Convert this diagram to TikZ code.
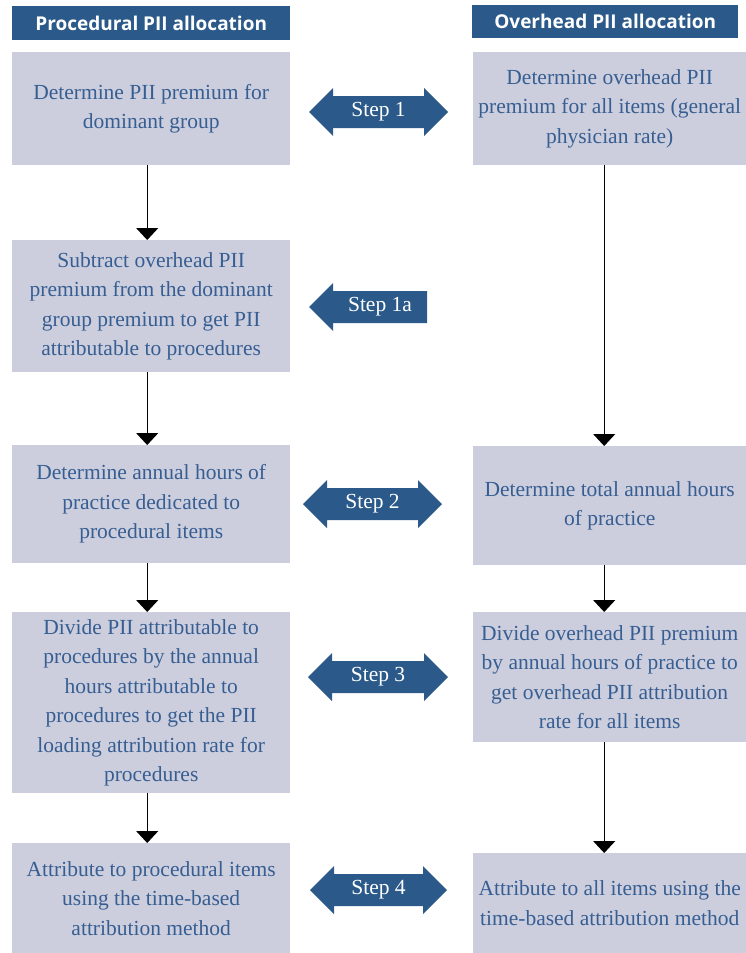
\documentclass[tikz,border=0pt]{standalone}
\usepackage{fontspec}
\setmainfont{Liberation Serif}
\newfontfamily\hdrfont{Open Sans}
\usetikzlibrary{arrows.meta}
\definecolor{hdrblue}{HTML}{2B5A8A}
\definecolor{boxfill}{HTML}{CCCEDD}
\definecolor{txtblue}{HTML}{375E92}
\newcommand{\stepdbl}[5]{%
  \fill[hdrblue] (#1,#3) -- (#1+24,#3-24) -- (#1+24,#3-16) -- (#2-24,#3-16) -- (#2-24,#3-24) -- (#2,#3) -- (#2-24,#3+24) -- (#2-24,#3+16) -- (#1+24,#3+16) -- (#1+24,#3+24) -- cycle;
  \node[steptxt] (#4) at ({(#1+#2)/2},#3) {#5};}
\begin{document}
\begin{tikzpicture}[x=1pt,y=-1pt,
  hdr/.style={fill=hdrblue, text=white, font=\hdrfont\bfseries\fontsize{19}{22}\selectfont, inner sep=0, anchor=north west},
  box/.style={fill=boxfill, text=txtblue, font=\fontsize{21.5}{29.5}\selectfont, align=center, inner sep=0, anchor=north west},
  flow/.style={line width=1.3pt, -{Triangle[width=22pt,length=12pt]}},
  steptxt/.style={text=white, font=\fontsize{21.5}{24}\selectfont, inner sep=0}]
\useasboundingbox (0,0) rectangle (746,953);
% headers
\node[hdr, minimum width=278pt, minimum height=34pt] (h1) at (12,6) {Procedural PII allocation};
\node[hdr, minimum width=266pt, minimum height=33pt] (h2) at (472,5) {Overhead PII allocation};
% left column
\node[box, minimum width=278pt, minimum height=113pt] (b1) at (12,52) {Determine PII premium for\\dominant group};
\node[box, minimum width=278pt, minimum height=132pt] (b2) at (12,240) {Subtract overhead PII\\premium from the dominant\\group premium to get PII\\attributable to procedures};
\node[box, minimum width=278pt, minimum height=118pt] (b3) at (12,445) {Determine annual hours of\\practice dedicated to\\procedural items};
\node[box, minimum width=278pt, minimum height=181pt] (b4) at (12,612) {Divide PII attributable to\\procedures by the annual\\hours attributable to\\procedures to get the PII\\loading attribution rate for\\procedures};
\node[box, minimum width=278pt, minimum height=110pt] (b5) at (12,843) {Attribute to procedural items\\using the time-based\\attribution method};
% right column
\node[box, minimum width=273pt, minimum height=113pt] (r1) at (473,52) {Determine overhead PII\\premium for all items (general\\physician rate)};
\node[box, minimum width=273pt, minimum height=119pt] (r2) at (473,446) {Determine total annual hours\\of practice};
\node[box, minimum width=273pt, minimum height=130pt] (r3) at (473,612) {Divide overhead PII premium\\by annual hours of practice to\\get overhead PII attribution\\rate for all items};
\node[box, minimum width=273pt, minimum height=100pt] (r4) at (473,853) {Attribute to all items using the\\time-based attribution method};
% flow arrows
\draw[flow] ([xshift=-4pt]b1.south) -- ([xshift=-4pt]b2.north);
\draw[flow] ([xshift=-4pt]b2.south) -- ([xshift=-4pt]b3.north);
\draw[flow] ([xshift=-4pt]b3.south) -- ([xshift=-4pt]b4.north);
\draw[flow] ([xshift=-4pt]b4.south) -- ([xshift=-4pt]b5.north);
\draw[flow] ([xshift=-5.5pt]r1.south) -- ([xshift=-5.5pt]r2.north);
\draw[flow] ([xshift=-5.5pt]r2.south) -- ([xshift=-5.5pt]r3.north);
\draw[flow] ([xshift=-5.5pt]r3.south) -- ([xshift=-5.5pt]r4.north);
% step arrows
\stepdbl{309}{448}{112}{s1}{Step 1}
\fill[hdrblue] (309,307) -- (333,283) -- (333,291) -- (427,291) -- (427,323) -- (333,323) -- (333,331) -- cycle;
\node[steptxt] (s1a) at (380,307) {Step 1a};
\stepdbl{303}{442}{504}{s2}{Step 2}
\stepdbl{308}{448}{677}{s3}{Step 3}
\stepdbl{310}{447}{890}{s4}{Step 4}
\end{tikzpicture}
\end{document}
